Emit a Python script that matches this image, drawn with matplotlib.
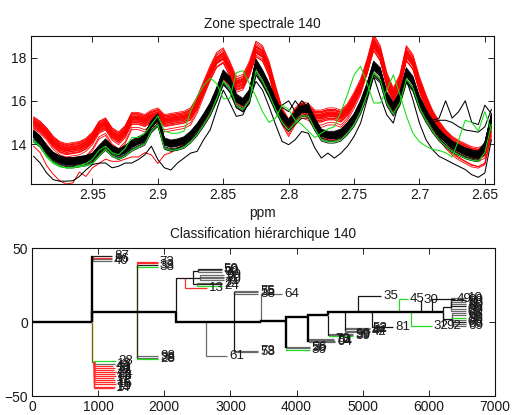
import numpy as np
import matplotlib
matplotlib.use("Agg")
import matplotlib.pyplot as plt

plt.rcParams['font.family'] = ['Liberation Sans', 'DejaVu Sans']

# ---------------- spectral zone data ----------------
ppm = np.round(np.linspace(2.995, 2.645, 71), 3)

black_base = [14.45, 14.2, 13.75, 13.45, 13.28, 13.2, 13.2, 13.25, 13.3, 13.4,
              13.75, 14.05, 13.75, 13.6, 13.75, 14.0, 14.15, 14.3, 14.9, 15.2,
              14.1, 14.0, 14.05, 14.15, 14.4, 14.75, 15.2, 15.7, 16.4, 17.2,
              16.9, 16.1, 15.9, 16.3, 17.7, 17.2, 16.6, 15.9, 15.3, 14.95,
              15.3, 15.6, 15.6, 15.0, 14.5, 14.4, 14.4, 14.5, 14.8, 15.2,
              15.8, 16.6, 17.6, 17.3, 16.2, 15.7, 16.2, 17.3, 16.9, 16.0,
              15.4, 14.9, 14.5, 14.2, 13.95, 13.8, 13.65, 13.55, 13.5, 13.9, 15.2]

red_base = [15.0, 14.8, 14.5, 14.1, 13.85, 13.75, 13.8, 13.85, 14.0, 14.3,
            14.8, 14.95, 14.5, 14.3, 14.6, 15.2, 15.2, 15.1, 15.3, 15.4,
            15.1, 15.15, 15.2, 15.25, 15.4, 15.9, 16.6, 17.3, 17.9, 18.1,
            17.5, 16.8, 16.9, 17.5, 18.4, 18.2, 17.5, 16.4, 15.4, 14.9,
            15.4, 15.7, 15.6, 15.3, 15.3, 15.4, 15.4, 15.3, 15.6, 16.1,
            16.7, 17.6, 18.7, 18.2, 17.0, 16.3, 16.9, 18.2, 17.8, 16.8,
            16.0, 15.3, 14.8, 14.4, 14.1, 13.9, 13.75, 13.6, 13.55, 13.7, 14.9]

black_offsets = [-0.14, -0.13, -0.12, -0.11, -0.1, -0.09, -0.08, -0.07, -0.065, -0.06,
                 -0.05, -0.045, -0.04, -0.035, -0.03, -0.02, -0.02, -0.015, -0.01, 0.0,
                 0.0, 0.01, 0.015, 0.015, 0.02, 0.03, 0.035, 0.035, 0.04, 0.05,
                 0.055, 0.06, 0.07, 0.08, 0.085, 0.09, 0.1, 0.11, 0.12, 0.13,
                 0.15, 0.16, -0.3, -0.38, -0.24, 0.2, -0.02, 0.03, -0.07, 0.06]
black_gains = [0.015, -0.015, 0.01, -0.02, 0.015, 0.0, -0.015, 0.02, -0.01, 0.015,
               -0.015, 0.015, 0.0, -0.02, 0.01, 0.02, -0.015, 0.015, -0.01, 0.0,
               0.015, -0.015, 0.01, -0.015, 0.02, 0.0, -0.01, 0.015, -0.02, 0.015,
               0.01, -0.015, 0.0, 0.015, -0.015, 0.015, -0.01, 0.02, 0.0, -0.015,
               0.01, 0.015, -0.03, -0.04, -0.02, 0.015, 0.03, -0.03, 0.04, -0.04]

red_offsets = [-0.3, -0.26, -0.22, -0.19, -0.16, -0.13, -0.1, -0.08, -0.06, -0.04,
               -0.02, 0.0, 0.02, 0.04, 0.06, 0.08, 0.1, 0.13, 0.16, 0.19,
               0.22, 0.26, -0.55, -0.45]
red_gains = [0.04, -0.03, 0.02, -0.05, 0.03, 0.0, -0.02, 0.05, -0.04, 0.01,
             0.03, -0.01, 0.04, -0.05, 0.02, 0.0, -0.03, 0.05, -0.02, 0.01,
             -0.04, 0.03, 0.08, 0.1]

green_offsets = [-0.3]

red_low = [13.9, 13.6, 13.0, 12.6, 12.3, 12.15, 12.2, 12.7, 12.5, 12.9,
           13.1, 13.3, 13.2, 13.2, 13.3, 13.4, 13.4, 13.6, 13.5, 13.1,
           13.5, 13.6, 13.8, 14.0, 14.3, 14.6, 15.0, 15.5, 16.2, 17.0,
           16.7, 15.9, 15.7, 16.1, 17.4, 16.9, 16.3, 15.6, 15.0, 14.7,
           15.0, 15.3, 15.3, 14.8, 14.3, 14.2, 14.2, 14.3, 14.6, 15.0,
           15.6, 16.4, 17.3, 17.0, 16.0, 15.5, 16.0, 17.0, 16.6, 15.8,
           15.1, 14.6, 14.2, 13.9, 13.6, 13.4, 13.2, 13.05, 12.95, 13.1, 14.6]

black_low = [13.43, 13.12, 12.66, 12.35, 12.28, 12.28, 12.3, 12.5, 12.8, 13.05,
             13.12, 13.12, 12.9, 12.97, 13.12, 13.12, 13.28, 13.5, 13.9, 13.28,
             12.9, 12.8, 13.12, 13.35, 13.58, 13.66, 14.2, 14.66, 15.58, 16.5,
             15.9, 15.28, 15.35, 16.05, 16.9, 16.5, 15.74, 14.9, 14.12, 13.97,
             14.2, 14.58, 14.5, 13.82, 13.35, 13.58, 13.35, 13.58, 13.9, 14.35,
             14.97, 16.05, 17.12, 16.2, 15.35, 14.97, 16.05, 16.97, 16.05, 14.97,
             14.2, 13.74, 13.43, 13.28, 13.12, 12.97, 12.82, 12.58, 12.46, 12.66, 14.2]

black_noisy1 = [14.3, 14.0, 13.6, 13.3, 13.15, 13.05, 13.05, 13.1, 13.2, 13.3,
                13.6, 13.9, 13.6, 13.5, 13.6, 13.85, 14.0, 14.1, 14.6, 14.9,
                13.8, 13.7, 13.8, 13.95, 14.2, 14.5, 14.9, 15.4, 16.0, 16.8,
                16.4, 15.7, 15.5, 15.9, 17.2, 16.8, 16.2, 15.6, 15.8, 16.0,
                15.5, 16.0, 15.7, 15.2, 14.6, 14.3, 14.25, 14.3, 14.6, 15.0,
                15.6, 16.3, 17.2, 16.9, 15.9, 15.4, 15.9, 16.9, 16.5, 15.7,
                15.3, 15.1, 15.2, 16.0, 15.2, 15.5, 16.0, 15.0, 14.9, 15.8, 15.4]

black_noisy2 = [14.55, 14.3, 13.85, 13.55, 13.4, 13.3, 13.3, 13.35, 13.4, 13.5,
                13.85, 14.15, 13.85, 13.7, 13.85, 14.1, 14.25, 14.4, 15.0, 15.3,
                14.2, 14.1, 14.15, 14.25, 14.5, 14.85, 15.3, 15.8, 16.5, 17.3,
                17.0, 16.2, 16.0, 16.4, 17.6, 17.1, 16.5, 15.5, 15.7, 15.5,
                16.0, 15.6, 15.9, 15.0, 14.6, 14.5, 14.5, 14.6, 14.9, 15.3,
                15.9, 16.7, 17.5, 17.2, 16.1, 15.6, 16.1, 17.2, 16.8, 16.0,
                15.2, 15.0, 15.1, 15.1, 15.0, 14.8, 14.65, 14.6, 14.55, 14.8, 15.6]

green_shift = [14.1, 13.9, 13.4, 13.1, 12.95, 12.9, 12.9, 13.0, 13.1, 13.3,
               13.7, 13.9, 13.6, 13.5, 13.8, 14.3, 14.3, 14.5, 14.9, 15.3,
               14.6, 14.5, 14.5, 14.6, 15.5, 16.2, 16.7, 17.05, 16.8, 16.1,
               16.1, 17.3, 17.4, 16.8, 16.2, 15.5, 15.0, 15.2, 15.8, 15.6,
               15.1, 14.9, 14.6, 14.3, 14.5, 14.7, 14.8, 15.5, 16.3, 17.2,
               17.6, 16.8, 15.9, 15.9, 16.5, 17.2, 16.3, 15.3, 14.5, 14.1,
               13.9, 13.75, 13.7, 13.6, 13.4, 14.2, 15.1, 15.0, 14.6, 15.5, 14.6]

top_xticks = [2.95, 2.9, 2.85, 2.8, 2.75, 2.7, 2.65]
top_xticklabels = ['2.95', '2.9', '2.85', '2.8', '2.75', '2.7', '2.65']
top_yticks = [14, 16, 18]

# ---------------- dendrogram data ----------------
node_name = ['r0', 'm1', 'c87', 'l87', 'l40', 'l86', 'l46',
             'cR', 'r28', 'r18', 'r42', 'r31', 'r21', 'r51', 'r11', 'r48', 'r17', 'r12', 'r16', 'r15', 'r19', 'r14',
             'm2', 'cG1', 'g73', 'g3', 'g33', 'g38', 'cG2', 'b98', 'b38', 'b28',
             'm3', 'G1', 'l13', 'G2', 'Ga', 'a59', 'a50', 'a90', 'Gb', 'b99', 'b9', 'b20', 'b70',
             'Gc', 'c74', 'c2', 'c24',
             'H1', 'l61', 'H2', 'Hu', 'u75', 'u55', 'u38', 'Hd', 'd73', 'd58',
             'H3', 'l64', 'S1', 'A1', 'e26', 'e56', 'e36',
             'S2', 'A2', 'f73', 'f75', 'f54', 'f94',
             'S3', 'A3', 'h99', 'h59', 'h39',
             'S4', 'A4', 'k52', 'k92', 'k44', 'k42',
             'S5', 'l35', 'S6', 'l81', 'S7', 'l45', 'S8', 'l32', 'S9', 'l30', 'S10', 'l49', 'S11', 'l92',
             'Pa', 'p1', 'p2', 'p3', 'p4', 'p5', 'p6', 'p7',
             'Pb', 'q1', 'q2', 'q3', 'q4', 'q5', 'q6', 'q7']
node_parent = [None, 'r0', 'm1', 'c87', 'c87', 'c87', 'c87',
               'm1', 'cR', 'cR', 'cR', 'cR', 'cR', 'cR', 'cR', 'cR', 'cR', 'cR', 'cR', 'cR', 'cR', 'cR',
               'm1', 'm2', 'cG1', 'cG1', 'cG1', 'cG1', 'm2', 'cG2', 'cG2', 'cG2',
               'm2', 'm3', 'G1', 'G1', 'G2', 'Ga', 'Ga', 'Ga', 'G2', 'Gb', 'Gb', 'Gb', 'Gb',
               'G2', 'Gc', 'Gc', 'Gc',
               'm3', 'H1', 'H1', 'H2', 'Hu', 'Hu', 'Hu', 'H2', 'Hd', 'Hd',
               'H2', 'H3', 'H3', 'S1', 'A1', 'A1', 'A1',
               'S1', 'S2', 'A2', 'A2', 'A2', 'A2',
               'S2', 'S3', 'A3', 'A3', 'A3',
               'S3', 'S4', 'A4', 'A4', 'A4', 'A4',
               'S4', 'S5', 'S5', 'S6', 'S6', 'S7', 'S7', 'S8', 'S8', 'S9', 'S9', 'S10', 'S10', 'S11',
               'S11', 'Pa', 'Pa', 'Pa', 'Pa', 'Pa', 'Pa', 'Pa',
               'S11', 'Pb', 'Pb', 'Pb', 'Pb', 'Pb', 'Pb', 'Pb']
node_x = [0, 910, 925, 1210, 1210, 1210, 1210,
          930, 1270, 1250, 1230, 1260, 1240, 1280, 1250, 1270, 1240, 1260, 1250, 1270, 1260, 1240,
          1580, 1590, 1900, 1900, 1900, 1900, 1590, 1910, 1910, 1910,
          2180, 2310, 2640, 2436, 2510, 2870, 2870, 2880, 2540, 2900, 2900, 2900, 2900,
          2500, 2880, 2880, 2880,
          2628, 2950, 3050, 3060, 3420, 3420, 3420, 3060, 3420, 3420,
          3455, 3780, 3835, 3845, 4200, 4200, 4200,
          4180, 4190, 4560, 4560, 4580, 4580,
          4478, 4485, 4860, 4860, 4860,
          4730, 4735, 5110, 5110, 5110, 5110,
          4932, 5280, 5134, 5460, 5553, 5680, 5724, 6040, 5880, 5880, 6042, 6395, 6209, 6230,
          6330, 6560, 6560, 6560, 6560, 6560, 6560, 6560,
          6350, 6560, 6560, 6560, 6560, 6560, 6560, 6560]
node_y = [0, 0, 44, 44.6, 43.4, 42.3, 41.4,
          -26.8, -26.5, -28.2, -29.5, -31.0, -32.4, -33.8, -35.2, -36.6, -38.0, -39.4, -40.8, -42.2, -43.6, -44.8,
          6.5, 38.5, 40.6, 39.6, 38.6, 37.3, -24.3, -23.3, -24.1, -25.3,
          6.5, 29.6, 22.9, 29.6, 34.5, 35.8, 35.0, 33.8, 30.0, 31.6, 30.6, 29.6, 28.6,
          25.6, 26.6, 25.6, 24.3,
          0, -22.9, 0, 20.2, 21.0, 20.2, 19.2, -20.0, -19.4, -20.4,
          0, 18.8, 0.5, -17.9, -17.0, -17.8, -18.6,
          3.6, -12.5, -11.2, -12.0, -12.8, -13.6,
          4.7, -8.8, -7.8, -8.6, -9.5,
          7.0, -5.4, -4.2, -5.0, -5.9, -6.7,
          7.0, 17.6, 7.0, -3.2, 7.0, 15.4, 7.0, -2.7, 7.0, 15.0, 7.0, 15.5, 7.0, -2.7,
          10.0, 16.5, 15.0, 13.5, 12.0, 10.5, 9.0, 7.5,
          2.0, 6.0, 4.5, 3.0, 1.5, 0.0, -1.5, -3.0]
node_kind = ['main', 'main', 'main', 'leafk', 'red', 'leaf', 'leaf',
             'olive', 'green', 'leaf', 'red', 'red', 'red', 'red', 'red', 'red', 'red', 'red', 'red', 'red', 'red', 'red',
             'main', 'dkolive', 'red', 'red', 'leafk', 'green', 'dkolive', 'leaf', 'leaf', 'green',
             'main', 'sub', 'red', 'sub', 'sub', 'leafk', 'leaf', 'leaf', 'sub', 'leaf', 'leaf', 'leaf', 'leaf',
             'sub', 'leaf', 'leafk', 'green',
             'main', 'leaf', 'main', 'sub', 'leaf', 'leaf', 'leaf', 'sub', 'leaf', 'leaf',
             'main', 'leaf', 'main', 'main', 'leaf', 'leaf', 'green',
             'main', 'main', 'leaf', 'leaf', 'leaf', 'leaf',
             'main', 'sub', 'leaf', 'leaf', 'green',
             'main', 'sub', 'leaf', 'leaf', 'leaf', 'leaf',
             'main', 'sub', 'main', 'sub', 'main', 'green', 'main', 'green', 'main', 'sub', 'main', 'sub', 'main', 'sub',
             'sub', 'leaf', 'leafk', 'leaf', 'leaf', 'leafk', 'leaf', 'leaf',
             'sub', 'leaf', 'leaf', 'green', 'leaf', 'leafk', 'leaf', 'leaf']
node_label = ['', '', '', '87', '', '86', '40',
              '', '28', '18', '42', '31', '21', '51', '11', '48', '17', '12', '16', '15', '19', '14',
              '', '', '73', '', '33', '38', '', '98', '38', '28',
              '', '', '13', '', '', '59', '50', '90', '', '99', '9', '20', '70',
              '', '74', '2', '24',
              '', '61', '', '', '75', '55', '38', '', '73', '58',
              '', '64', '', '', '26', '56', '36',
              '', '', '73', '75', '54', '94',
              '', '', '99', '59', '39',
              '', '', '52', '92', '44', '42',
              '', '35', '', '81', '', '45', '', '32', '', '30', '', '49', '', '92',
              '', '10', '90', '88', '60', '80', '00', '89',
              '', '08', '66', '96', '86', '06', '68', '69']

bottom_xticks = [0, 1000, 2000, 3000, 4000, 5000, 6000, 7000]
bottom_yticks = [-50, 0, 50]

# ---------------- styles ----------------
kind_style = {
    'main': ('#000000', 1.7, 5),
    'sub': ('#151515', 0.9, 4),
    'leaf': ('#6a6a6a', 0.9, 2),
    'leafk': ('#202020', 0.9, 3),
    'red': ('#ff2a2a', 0.9, 3),
    'green': ('#22dd22', 0.9, 3),
    'olive': ('#7a6400', 1.0, 4),
    'dkolive': ('#2c3300', 1.0, 4),
}
txt_color = '#1a1a1a'

fig = plt.figure(figsize=(5.12, 4.15), dpi=100)
fig.patch.set_facecolor('white')
ax1 = fig.add_axes([31 / 512, 1 - 184 / 415, 463 / 512, 148 / 415])
ax2 = fig.add_axes([32 / 512, 1 - 396 / 415, 463 / 512, 148 / 415])

# ---- top panel ----
rb = np.array(red_base)
bb = np.array(black_base)
for off, g in zip(red_offsets, red_gains):
    ax1.plot(ppm, rb + off + g * (rb - 15), color='#ff0000', lw=0.6, zorder=2)
ax1.plot(ppm, red_low, color='#ff0000', lw=0.7, zorder=2)
for off, g in zip(black_offsets, black_gains):
    ax1.plot(ppm, bb + off + g * (bb - 15), color='black', lw=0.6, zorder=3)
for arr in (black_low, black_noisy1, black_noisy2):
    ax1.plot(ppm, arr, color='black', lw=0.75, zorder=3)
for off in green_offsets:
    ax1.plot(ppm, bb + off, color='#11dd11', lw=0.75, zorder=4)
ax1.plot(ppm, green_shift, color='#11dd11', lw=0.75, zorder=4)

ax1.set_xlim(2.997, 2.643)
ax1.set_ylim(12.15, 19.0)
ax1.set_xticks(top_xticks)
ax1.set_xticklabels(top_xticklabels)
ax1.set_yticks(top_yticks)
ax1.set_title('Zone spectrale 140', fontsize=9.8, color=txt_color, pad=6)
ax1.set_xlabel('ppm', fontsize=9.8, color=txt_color, labelpad=3)

# ---- bottom panel: dendrogram ----
pos = {n: (x, y) for n, x, y in zip(node_name, node_x, node_y)}
for n, p, x, y, k, lab in zip(node_name, node_parent, node_x, node_y, node_kind, node_label):
    if p is not None:
        px, py = pos[p]
        col, lw, z = kind_style[k]
        ax2.plot([px, px, x], [py, y, y], color=col, lw=lw, zorder=z,
                 solid_capstyle='butt', solid_joinstyle='miter')
    if lab:
        ax2.annotate(lab, (x, y), xytext=(1.5, 0), textcoords='offset points',
                     ha='left', va='center', fontsize=9.6, color=txt_color, zorder=6)

ax2.set_xlim(0, 7000)
ax2.set_ylim(-50, 50)
ax2.set_xticks(bottom_xticks)
ax2.set_yticks(bottom_yticks)
ax2.set_title('Classification hiérarchique 140', fontsize=9.8, color=txt_color, pad=7)

for ax in (ax1, ax2):
    ax.tick_params(direction='in', top=True, right=True, length=4, width=0.6,
                   labelsize=10, labelcolor=txt_color, pad=3)
    for s in ax.spines.values():
        s.set_linewidth(0.8)
        s.set_color('#111111')

fig.savefig('out.png', dpi=100, facecolor='white')
